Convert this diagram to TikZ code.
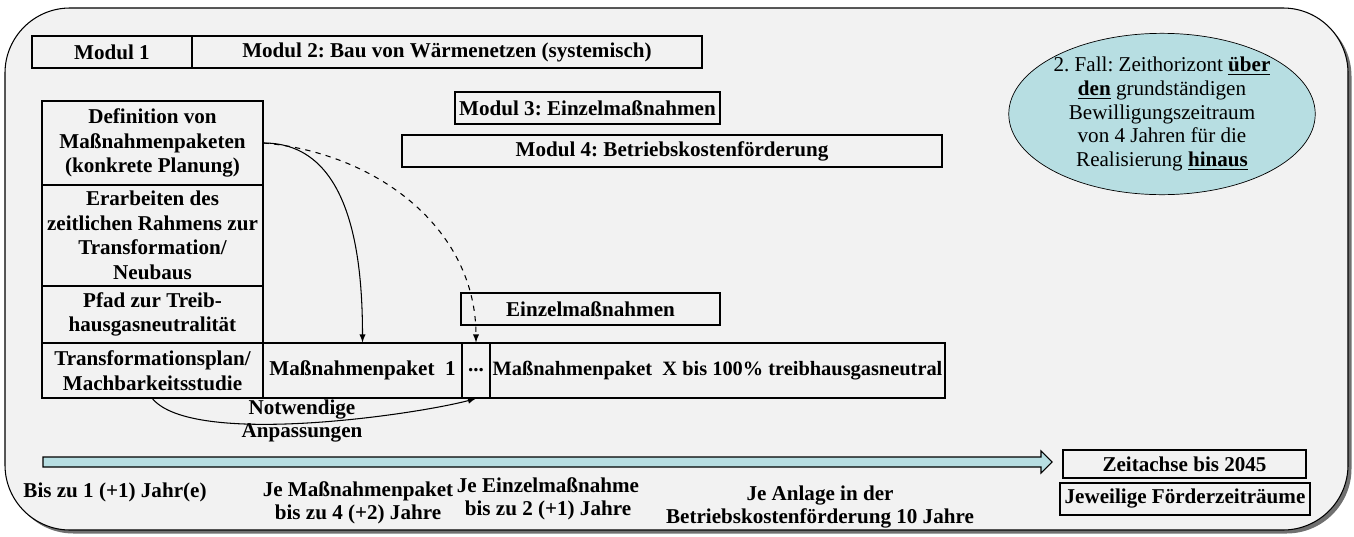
\documentclass[tikz,border=0pt]{standalone}
\usepackage{fontspec}
\setmainfont{Liberation Serif}
\usepackage{tikz}
\usetikzlibrary{arrows,shapes.geometric,shadows}
\definecolor{rahmengrau}{HTML}{F2F2F2}
\definecolor{hellteal}{HTML}{B7DEE2}
\tikzset{
  modul/.style={draw,semithick,inner sep=0pt,align=center,font=\bfseries\fontsize{12}{14}\selectfont},
  spalte/.style={modul,thick,minimum width=4.42cm},
  zeitlabel/.style={align=center,font=\bfseries\fontsize{12}{13}\selectfont}
}
\frenchspacing

\begin{document}
\begin{tikzpicture}[x=0.2cm,y=-0.2cm]
\useasboundingbox (0,0) rectangle (135.4,53.6);
 \draw[rounded corners=1.3cm,fill=rahmengrau,semithick,drop shadow={shadow xshift=0.07cm,shadow yshift=-0.07cm,fill=black!70,opacity=0.8}] (0.5,0.8) rectangle (134.8,53.0);

   \draw (11.2,5.2) node[modul,minimum width=3.2cm,minimum height=0.64cm] (mod1) {Modul 1};
   \draw (44.7,5.2) node[modul,minimum width=10.2cm,minimum height=0.64cm] (mod2) {Modul 2: Bau von Wärmenetzen (systemisch)};
      \draw (58.75,10.8) node[modul,minimum width=5.3cm,minimum height=0.64cm] (mod3) {Modul 3: Einzelmaßnahmen};
      \draw (67.2,15.1) node[modul,minimum width=10.8cm,minimum height=0.64cm] (mod4) {Modul 4: Betriebskostenförderung};

  \draw (15.25,14.3) node[spalte,minimum height=1.68cm] (def) {Definition von\\Maßnahmenpaketen\\(konkrete Planung)};
  \draw (15.25,23.55) node[spalte,minimum height=2.02cm] (erarb) {Erarbeiten des\\zeitlichen Rahmens zur\\Transformation/\\Neubaus};
  \draw (15.25,31.45) node[spalte,minimum height=1.14cm] (pfad) {Pfad zur Treib-\\hausgasneutralität};
  \draw (15.25,37.05) node[spalte,minimum height=1.1cm] (tplan) {Transformationsplan/\\Machbarkeitsstudie};
      \draw (36.25,37.05) node[modul,minimum width=3.98cm,minimum height=1.1cm] (mp1) {Maßnahmenpaket\ \ 1};
      \draw (47.6,37.05) node[modul,minimum width=0.56cm,minimum height=1.1cm] (dots) {...};
      \draw (71.75,37.05) node[modul,minimum width=9.1cm,minimum height=1.1cm,font=\bfseries\fontsize{11.6}{13}\selectfont] (mpx) {Maßnahmenpaket\ \ X bis 100\% treibhausgasneutral};
	\draw (59.05,30.9) node[modul,minimum width=5.18cm,minimum height=0.64cm] (einzel) {Einzelmaßnahmen};

    \draw (116.2,11.4) node[ellipse,draw,fill=hellteal,minimum width=5.08cm,minimum height=2.64cm,inner sep=0pt,align=center,font=\fontsize{12}{13.5}\selectfont] (fall) {2. Fall: Zeithorizont \textbf{\underline{über}}\\\textbf{\underline{den}} grundständigen\\Bewilligungszeitraum\\von 4 Jahren für die\\Realisierung \textbf{\underline{hinaus}}};

  \draw[semithick,fill=hellteal] (4.3,45.7) -- (104.1,45.7) -- (104.1,45.1) -- (105.2,46.2) -- (104.1,47.3) -- (104.1,46.7) -- (4.3,46.7) -- cycle;
      \draw (118.45,46.4) node[modul,minimum width=4.86cm,minimum height=0.56cm] (zeitachse) {Zeitachse bis 2045};
      \draw (118.5,49.9) node[modul,minimum width=5.0cm,minimum height=0.64cm] (foerder) {Jeweilige Förderzeiträume};

  \draw (11.5,49.2) node[zeitlabel] (lab1) {Bis zu 1 (+1) Jahr(e)};
  \draw (35.8,50.3) node[zeitlabel] (lab2) {Je Maßnahmenpaket\\bis zu 4 (+2) Jahre};
  \draw (54.8,49.9) node[zeitlabel] (lab3) {Je Einzelmaßnahme\\bis zu 2 (+1) Jahre};
  \draw (82,50.7) node[zeitlabel] (lab4) {Je Anlage in der\\Betriebskostenförderung 10 Jahre};
  \draw (30.2,42.1) node[zeitlabel] (anp) {Notwendige\\Anpassungen};

    \path[-latex,semithick] (def.east) edge[out=0,in=90] (mp1.north);
    \path[-latex,semithick,dashed] (def.east) edge[out=-5,in=90] (dots.north);
    \path[-latex,semithick] (tplan.south) edge[out=-50,in=195,looseness=0.5] (dots.south);

\end{tikzpicture}
\end{document}
